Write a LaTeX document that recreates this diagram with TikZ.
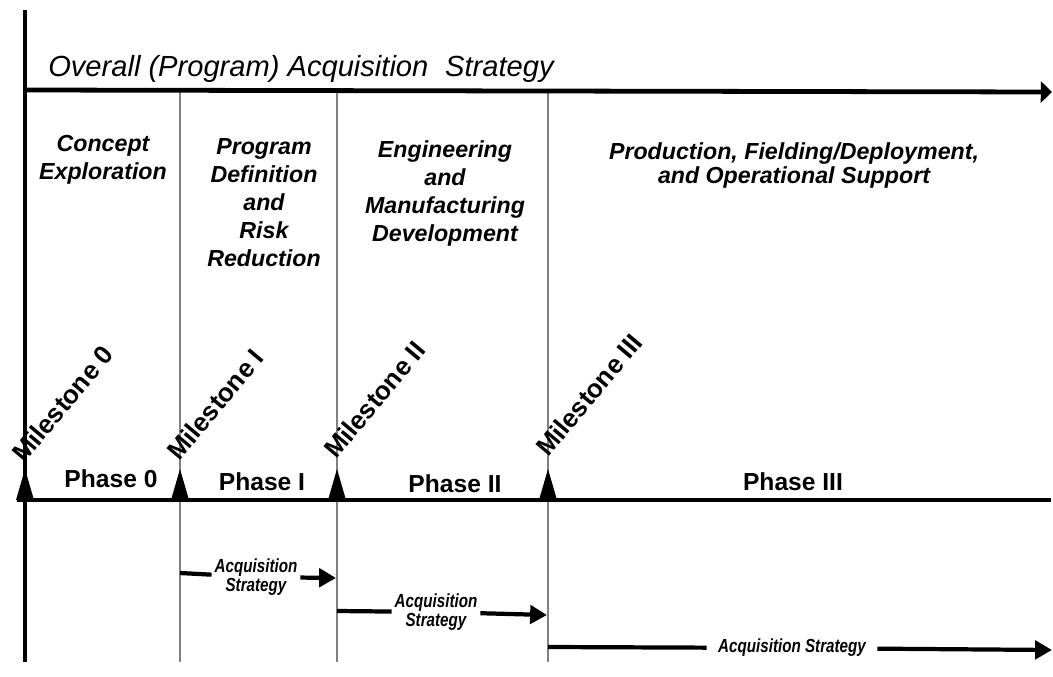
\documentclass[tikz,border=0pt]{standalone}
\usepackage{fontspec}
\setmainfont{Liberation Sans}
\newfontfamily\narrowsans[FakeStretch=0.8]{Liberation Sans}
\usetikzlibrary{arrows.meta, positioning}

\begin{document}
\begin{tikzpicture}[
		x=0.025cm, y=-0.025cm,
		mainline/.style={line width=3.4pt, color=black},
		divider/.style={line width=2pt, color=black!50},
		head/.style={font=\bfseries\itshape\fontsize{16.5}{20}\selectfont, align=center, anchor=north, inner sep=0pt},
		mile/.style={font=\bfseries\fontsize{18.5}{20}\selectfont, rotate=50, anchor=base west, inner sep=0pt},
		phase/.style={font=\bfseries\fontsize{17.5}{20}\selectfont, anchor=base, inner sep=0pt},
		stratlbl/.style={font=\narrowsans\bfseries\itshape\fontsize{13.5}{14}\selectfont, align=center, inner sep=2pt},
		strat/.style={line width=3pt, color=black},
		stratarrow/.style={strat, -{Triangle[length=12pt, width=13pt]}}
	]
	\useasboundingbox (0,0) rectangle (1053,677);

	% milestones on the time line
	\foreach \n/\x in {0/25, 1/180, 2/337, 3/548} {
			\coordinate (top\n) at (\x, 90);
			\coordinate (m\n) at (\x, 500);
			\coordinate (bot\n) at (\x, 662);
		}
	\coordinate (origin) at (25, 10);
	\coordinate (ovend) at (1052, 92);
	\coordinate (tl0) at (17, 500);
	\coordinate (tl1) at (1051, 500);

	\foreach \n in {1,2,3}
	\draw[divider] (top\n) -- (bot\n);
	\draw[line width=2.6pt] (origin) -- (bot0);

	% overall strategy
	\node[anchor=base west, inner sep=0pt, font=\itshape\fontsize{20.7}{24}\selectfont] (overall) at (48, 76) {Overall (Program) Acquisition\hspace{.3em} Strategy};
	\draw[mainline, -{Triangle[length=8pt, width=15pt]}] (top0) -- (ovend);

	% phase titles
	\node[head] (concept) at (103, 135) {Concept\\Exploration};
	\node[head] (pdrr) at (264, 138) {Program\\Definition\\and\\Risk\\Reduction};
	\node[head] (emd) at (445, 140) {Engineering\\and\\Manufacturing\\Development};
	\node[head, font=\bfseries\itshape\fontsize{16.5}{17.5}\selectfont] (pfd) at (794, 142) {Production, Fielding/Deployment,\\and Operational Support};

	% time line
	\draw[mainline] (tl0) -- (tl1);
	\foreach \n in {0,...,3}
	\fill (m\n) ++(-9,0) -- ++(9,-31) -- ++(9,31) -- cycle;
	\foreach \n/\x/\y/\t in {0/24/464/0, 1/179/462/I, 2/336/460/II, 3/548/458/III}
	\node[mile] (ms\n) at (\x, \y) {Milestone \t};

	\node[phase] (ph0) at (111, 487) {Phase 0};
	\node[phase] (ph1) at (262, 490) {Phase I};
	\node[phase] (ph2) at (455, 492) {Phase II};
	\node[phase] (ph3) at (793, 490) {Phase III};

	% phase acquisition strategies
	\coordinate (s1) at (180, 573);
	\coordinate (e1) at (336, 578);
	\node[stratlbl] (as1) at (256, 577) {Acquisition\\Strategy};
	\draw[strat] (s1) -- (as1);
	\draw[stratarrow] (as1) -- (e1);

	\coordinate (s2) at (337, 611);
	\coordinate (e2) at (547, 615);
	\node[stratlbl] (as2) at (436, 612) {Acquisition\\Strategy};
	\draw[strat] (s2) -- (as2);
	\draw[stratarrow] (as2) -- (e2);

	\coordinate (s3) at (548, 647);
	\coordinate (e3) at (1052, 650);
	\node[stratlbl, inner xsep=8pt] (as3) at (792, 648) {Acquisition Strategy};
	\draw[strat] (s3) -- (as3);
	\draw[stratarrow] (as3) -- (e3);
\end{tikzpicture}
\end{document}
